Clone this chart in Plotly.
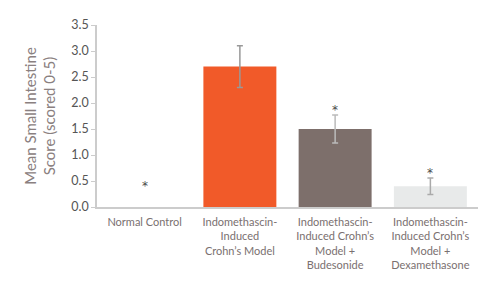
import plotly.graph_objects as go

categories = ["Normal Control",
              "Indomethascin-<br>Induced<br>Crohn’s Model",
              "Indomethascin-<br>Induced Crohn’s<br>Model +<br>Budesonide",
              "Indomethascin-<br>Induced Crohn’s<br>Model +<br>Dexamethasone"]
values = [0.0, 2.7, 1.5, 0.4]
errors = [0.0, 0.4, 0.27, 0.16]
star_y = [0.40, None, 1.86, 0.65]
tick_vals = [0, 0.5, 1.0, 1.5, 2.0, 2.5, 3.0, 3.5]
bar_colors = ["#E8EAEA", "#F15A29", "#7D6F6B", "#E8EAEA"]
err_colors = ["#aaaaaa", "#999999", "#bbbbbb", "#aaaaaa"]

fig = go.Figure()
for i, c in enumerate(categories):
    fig.add_trace(go.Bar(
        x=[c], y=[values[i]], marker_color=bar_colors[i], marker_line_width=0,
        error_y=dict(type="data", array=[errors[i]], visible=errors[i] > 0,
                     color=err_colors[i], thickness=1.5, width=3),
        showlegend=False))

for i, c in enumerate(categories):
    if star_y[i] is not None:
        fig.add_annotation(x=c, y=star_y[i], text="*", showarrow=False,
                           font=dict(size=12, color="#4a4a4a", family="DejaVu Sans"),
                           yanchor="middle")

fig.update_layout(
    width=500, height=285,
    margin=dict(l=97, r=22, t=25, b=78),
    plot_bgcolor="white", paper_bgcolor="white",
    bargap=0.234, barmode="overlay",
    font=dict(family="Lato", color="#6b6262"),
)
fig.update_xaxes(showline=True, linecolor="#cccccc", linewidth=1.5,
                 tickfont=dict(size=11, color="#7a7070"), ticks="",
                 ticklabelstandoff=4,
                 categoryorder="array", categoryarray=categories)
fig.update_yaxes(range=[0, 3.5], tickvals=tick_vals,
                 ticktext=[f"{v:.1f}" for v in tick_vals],
                 showline=True, linecolor="#cccccc", linewidth=1.5,
                 ticks="outside", ticklen=4, tickcolor="#cccccc",
                 showgrid=False, zeroline=False,
                 tickfont=dict(size=12.5, color="#555555"),
                 title=dict(text="Mean Small Intestine<br>Score (scored 0-5)",
                            font=dict(size=15, color="#8a8080"), standoff=12))

fig.write_html("out.html")
